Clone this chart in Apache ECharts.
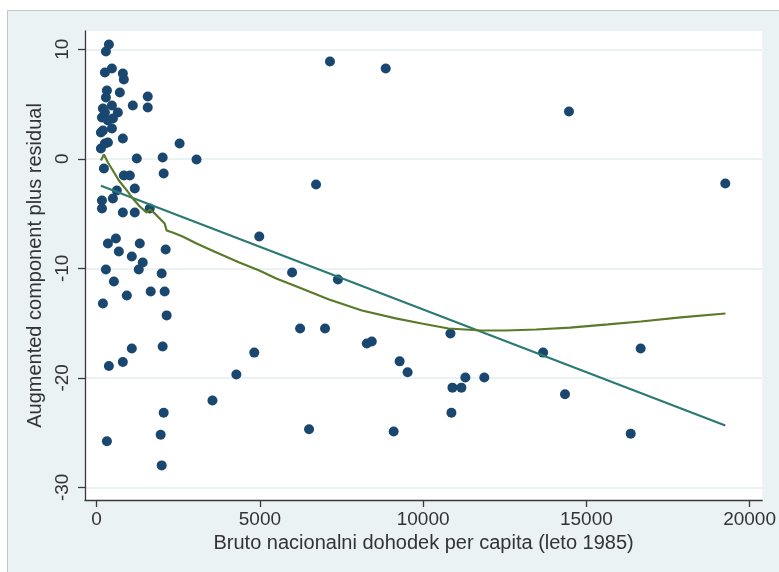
<!DOCTYPE html>
<html>
<head>
<meta charset="utf-8">
<script src="https://cdn.jsdelivr.net/npm/echarts@6/dist/echarts.min.js"></script>
<style>
  html, body { margin: 0; padding: 0; background: #ffffff; }
  #chart { width: 779px; height: 572px; }
</style>
</head>
<body>
<div id="chart"></div>
<script>
// GNP per capita (1985) and augmented component-plus-residual values
const gnpX = [
  375, 284, 253, 467, 802, 833, 314, 711, 284, 192,
  162, 253, 467, 650, 497, 345, 192, 467, 131, 802,
  345, 131, 253, 1107, 1565, 1565, 2541, 1229, 2022, 3059,
  223, 833, 1016, 2053, 619, 1168, 162, 162, 497, 802,
  1168, 1626, 345, 589, 1321, 680, 1077, 1412, 1290, 2114,
  284, 528, 1992, 924, 1656, 2083, 192, 2144, 1077, 2022,
  375, 802, 2053, 1961, 314, 1992,
  7147, 8855, 6720, 4981, 5987, 7390, 6232, 6995, 4828, 8275,
  8427, 9281, 9525, 10837, 10898, 11172, 11294, 11874, 10867, 6506,
  9098, 4279, 3547, 14468, 19256, 13675, 16664, 14346, 16359
];
const residY = [
  10.44, 9.8, 7.88, 8.24, 7.79, 7.24, 6.24, 6.05, 5.6, 4.59,
  3.77, 4.23, 4.87, 4.23, 3.68, 3.5, 2.58, 2.77, 2.4, 1.85,
  1.49, 0.94, 1.4, 4.87, 5.69, 4.68, 1.4, 0.03, 0.12, -0.06,
  -0.89, -1.53, -1.53, -1.34, -2.9, -2.71, -3.81, -4.54, -3.63, -4.9,
  -4.9, -4.54, -7.73, -7.28, -7.73, -8.47, -8.92, -9.47, -10.11, -8.28,
  -10.11, -11.21, -10.48, -12.48, -12.12, -12.12, -13.21, -14.3, -17.32, -17.14,
  -18.93, -18.56, -23.2, -25.2, -25.8, -28.0,
  8.89, 8.25, -2.35, -7.1, -10.38, -11.02, -15.5, -15.5, -17.7, -16.87,
  -16.69, -18.5, -19.5, -15.95, -20.9, -20.9, -19.98, -19.98, -23.2, -24.7,
  -24.9, -19.7, -22.07, 4.32, -2.26, -17.7, -17.32, -21.5, -25.1
];

// Linear fit endpoints
const fitX = [131, 19256];
const fitY = [-2.47, -24.36];

// Lowess smooth
const lowessX = [
  131, 223, 345, 497, 680, 924, 1107, 1321, 1535, 1626,
  1779, 1931, 2083, 2144, 2328, 2633, 3060, 3671, 4372, 4982,
  5501, 6203, 7118, 8125, 9162, 9956, 10779, 11786, 12519, 13465,
  14502, 15661, 16668, 17889, 19262
];
const lowessY = [
  -0.16, 0.39, -0.34, -1.07, -1.98, -2.89, -3.63, -4.36, -4.91, -4.63,
  -4.99, -5.45, -5.91, -6.55, -6.73, -7.09, -7.73, -8.56, -9.47, -10.2,
  -10.93, -11.75, -12.85, -13.85, -14.58, -15.04, -15.5, -15.68, -15.68, -15.59,
  -15.41, -15.13, -14.86, -14.49, -14.13
];

// Axis ticks
const xTicks = [0, 5000, 10000, 15000, 20000];
const yTicks = [-30, -20, -10, 0, 10];

const xTitle = 'Bruto nacionalni dohodek per capita (leto 1985)';
const yTitle = 'Augmented component plus residual';

const zip = (a, b) => a.map((v, i) => [v, b[i]]);

const FONT = "'Liberation Sans', Arial, sans-serif";
const TEXT = '#333333';
const AXIS = '#3a3a3a';
const BG = '#eaf2f3';

const chart = echarts.init(document.getElementById('chart'), null, { renderer: 'canvas' });

chart.setOption({
  animation: false,
  backgroundColor: '#ffffff',
  graphic: [{
    type: 'rect',
    z: -10,
    shape: { x: 7.5, y: 10.5, width: 780, height: 570 },
    style: { fill: BG, stroke: '#c4c4c4', lineWidth: 1 }
  }],
  grid: {
    left: 85, right: 14, top: 31, bottom: 72,
    show: true, backgroundColor: '#ffffff', borderWidth: 0
  },
  xAxis: {
    type: 'value',
    min: -357, max: 20387,
    name: xTitle,
    nameLocation: 'middle',
    nameGap: 31,
    nameTextStyle: { fontFamily: FONT, fontSize: 20, color: TEXT },
    axisLine: { show: true, onZero: false, lineStyle: { color: AXIS, width: 1.3 } },
    axisTick: { show: true, length: 7, customValues: xTicks, lineStyle: { color: AXIS, width: 1.3 } },
    axisLabel: {
      customValues: xTicks, margin: 10, fontFamily: FONT, fontSize: 19, color: TEXT,
      formatter: v => String(v)
    },
    splitLine: { show: false }
  },
  yAxis: {
    type: 'value',
    min: -31.16, max: 11.67,
    name: yTitle,
    nameLocation: 'middle',
    nameGap: 31,
    nameRotate: 90,
    nameTextStyle: { fontFamily: FONT, fontSize: 20, color: TEXT },
    axisLine: { show: true, onZero: false, lineStyle: { color: AXIS, width: 1.3 } },
    axisTick: { show: true, length: 7, customValues: yTicks, lineStyle: { color: AXIS, width: 1.3 } },
    axisLabel: {
      customValues: yTicks, rotate: 90, margin: 13, fontFamily: FONT, fontSize: 19, color: TEXT,
      formatter: v => String(v)
    },
    splitLine: { show: false }
  },
  series: [
    {
      // horizontal grid lines at the y ticks, kept beneath the marks
      type: 'line',
      data: [],
      silent: true,
      z: 0,
      markLine: {
        silent: true,
        z: 0,
        symbol: ['none', 'none'],
        label: { show: false },
        lineStyle: { color: BG, width: 2, type: 'solid' },
        data: yTicks.map(v => ({ yAxis: v }))
      }
    },
    {
      type: 'scatter',
      data: zip(gnpX, residY),
      symbol: 'circle',
      symbolSize: 10,
      itemStyle: { color: '#1a476f', opacity: 1 },
      z: 3
    },
    {
      type: 'line',
      data: zip(fitX, fitY),
      showSymbol: false,
      lineStyle: { color: '#2b7a72', width: 2.2 },
      z: 4
    },
    {
      type: 'line',
      data: zip(lowessX, lowessY),
      showSymbol: false,
      lineStyle: { color: '#5a7a2a', width: 2.2 },
      z: 4
    }
  ]
});
</script>
</body>
</html>
